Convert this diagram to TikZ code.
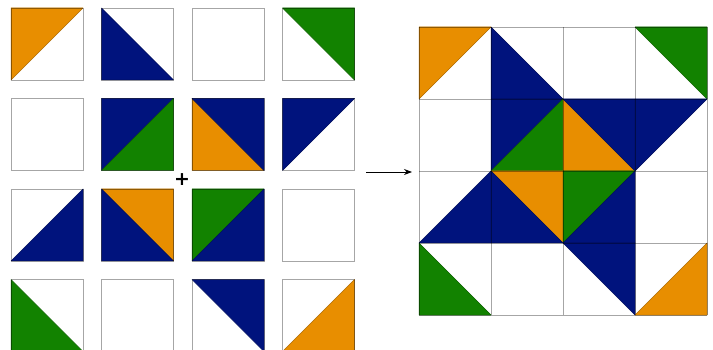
\documentclass[tikz,border=0pt]{standalone}
\usepackage{fontspec}
\newfontfamily\plusfont{DejaVu Sans}
\usetikzlibrary{arrows.meta}
\definecolor{qorange}{HTML}{E88E00}
\definecolor{qblue}{HTML}{00137D}
\definecolor{qgreen}{HTML}{128200}
\tikzset{
  tri/.style={fill=#1, draw=#1!75!black, line width=0.5pt, line join=round},
  tileedge/.style={draw=black, draw opacity=0.35, line width=0.8pt},
  connector/.style={line width=0.8pt, -{Stealth[length=8pt,width=6pt]}},
  plusmark/.style={inner sep=0pt, font=\plusfont\bfseries\fontsize{19}{19}\selectfont},
}
\newcommand\tUL[1]{\path[tri=#1] (0,0)--(1,0)--(0,1)--cycle;}
\newcommand\tUR[1]{\path[tri=#1] (0,0)--(1,0)--(1,1)--cycle;}
\newcommand\tLL[1]{\path[tri=#1] (0,0)--(0,1)--(1,1)--cycle;}
\newcommand\tLR[1]{\path[tri=#1] (1,0)--(1,1)--(0,1)--cycle;}
\newcommand\cellat[3]{\begin{scope}[shift={(#1,#2)}, x=72pt, y=-72pt]#3\end{scope}}
\newcommand\tileat[3]{\begin{scope}[shift={(#1,#2)}, x=72pt, y=-72pt]\fill[white] (0,0) rectangle (1,1);#3\draw[tileedge] (0,0) rectangle (1,1);\end{scope}}
\begin{document}
\begin{tikzpicture}[x=1pt, y=-1pt]
\useasboundingbox (0,0) rectangle (713,350);
% ---- left: 16 separate tiles
\tileat{11}{8}{\tUL{qorange}}
\tileat{101.5}{8}{\tLL{qblue}}
\tileat{192}{8}{}
\tileat{282.5}{8}{\tUR{qgreen}}
\tileat{11}{98.5}{}
\tileat{101.5}{98.5}{\tUL{qblue}\tLR{qgreen}}
\tileat{192}{98.5}{\tLL{qorange}\tUR{qblue}}
\tileat{282.5}{98.5}{\tUL{qblue}}
\tileat{11}{189}{\tLR{qblue}}
\tileat{101.5}{189}{\tUR{qorange}\tLL{qblue}}
\tileat{192}{189}{\tUL{qgreen}\tLR{qblue}}
\tileat{282.5}{189}{}
\tileat{11}{279.5}{\tLL{qgreen}}
\tileat{101.5}{279.5}{}
\tileat{192}{279.5}{\tUR{qblue}}
\tileat{282.5}{279.5}{\tLR{qorange}}
% ---- plus
\node[plusmark] (plus) at (182,179.5) {+};
% ---- arrow
\coordinate (arrowstart) at (366,172);
\coordinate (arrowend) at (412,172);
\draw[connector] (arrowstart) -- (arrowend);
% ---- right: assembled block
\cellat{419}{27}{\tUL{qorange}}
\cellat{491}{27}{\tLL{qblue}}
\cellat{635}{27}{\tUR{qgreen}}
\cellat{491}{99}{\tUL{qblue}\tLR{qgreen}}
\cellat{563}{99}{\tLL{qorange}\tUR{qblue}}
\cellat{635}{99}{\tUL{qblue}}
\cellat{419}{171}{\tLR{qblue}}
\cellat{491}{171}{\tUR{qorange}\tLL{qblue}}
\cellat{563}{171}{\tUL{qgreen}\tLR{qblue}}
\cellat{419}{243}{\tLL{qgreen}}
\cellat{563}{243}{\tUR{qblue}}
\cellat{635}{243}{\tLR{qorange}}
\begin{scope}[shift={(419,27)}, x=72pt, y=-72pt]
\foreach \k in {0,...,4} {
  \draw[tileedge] (\k,0) -- (\k,4);
  \draw[tileedge] (0,\k) -- (4,\k);
}
\end{scope}
\end{tikzpicture}
\end{document}
